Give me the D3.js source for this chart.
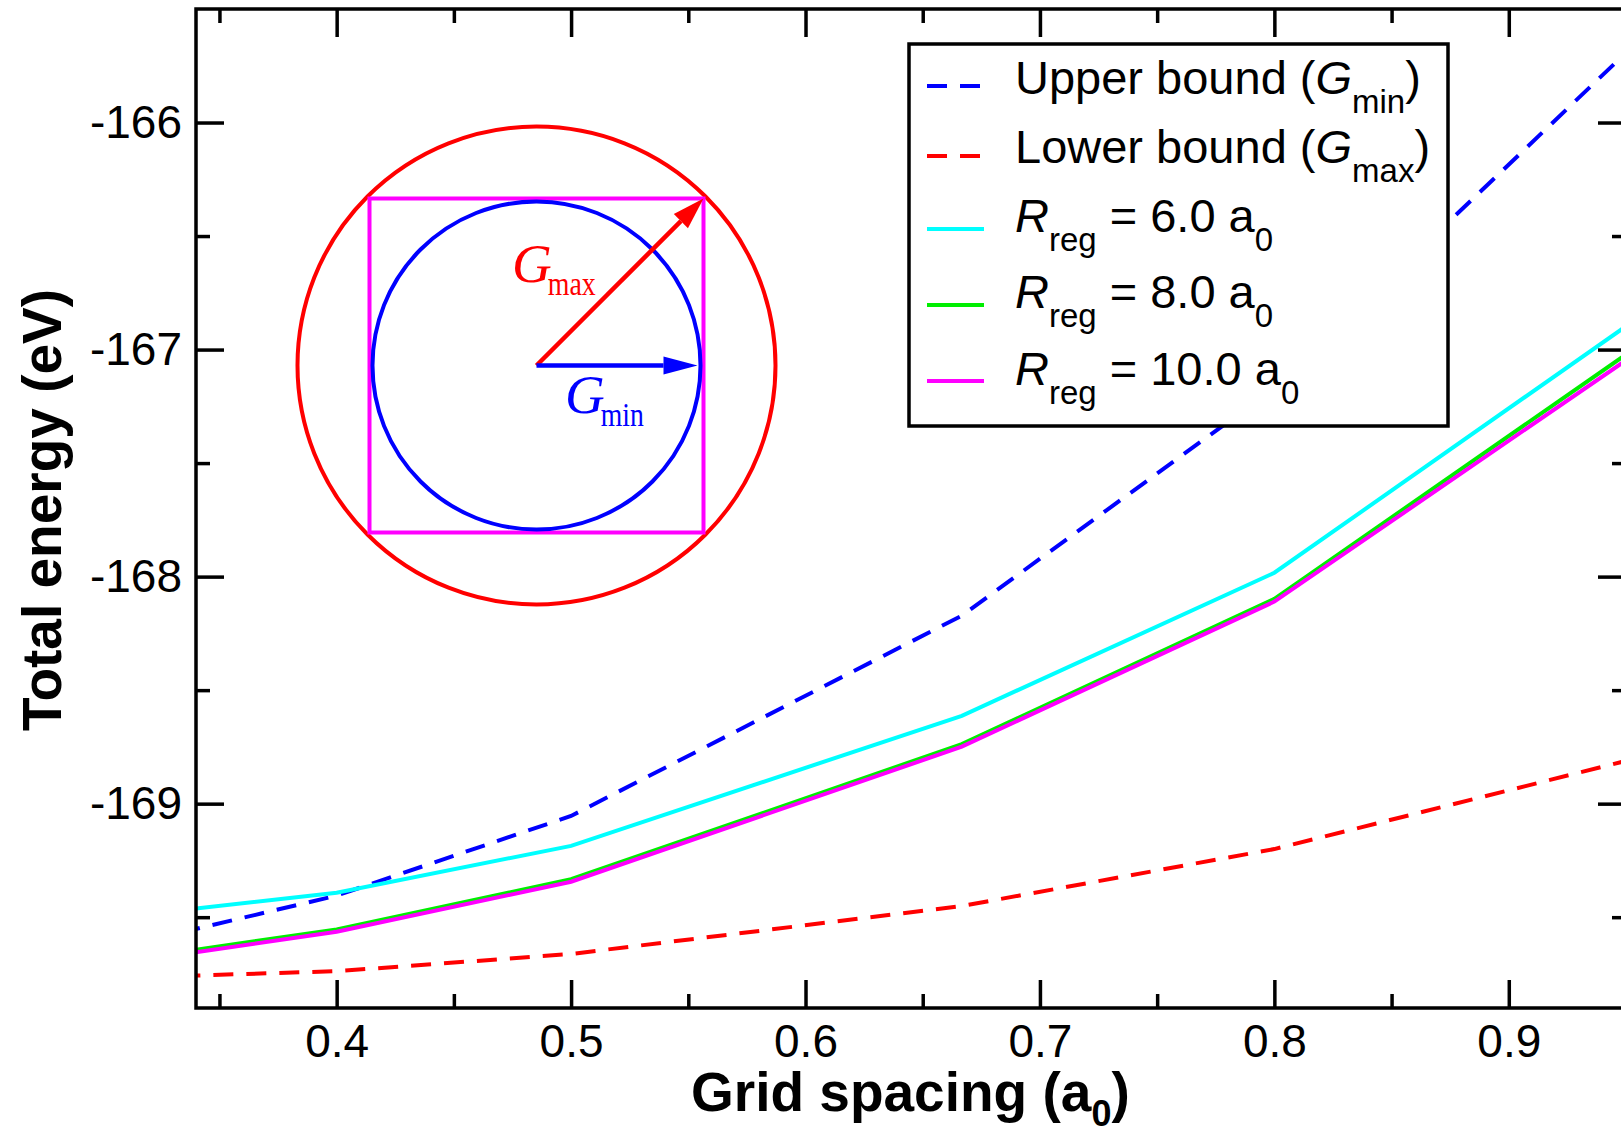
<!DOCTYPE html>
<html>
<head>
<meta charset="utf-8">
<script src="https://cdn.jsdelivr.net/npm/d3@7"></script>
<style>
  body { margin: 0; background: #fff; }
  svg { display: block; font-family: "Liberation Sans", Arial, sans-serif; }
</style>
</head>
<body>
<div class="svg-container"></div>
<script>
// grid spacing (a0) and total energies (eV)
var gridSpacing = [1/3, 0.4, 0.5, 2/3, 0.8, 1.0];
var upperBound  = [-169.568, -169.405, -169.054, -168.172, -167.170, -165.200];
var lowerBound  = [-169.759, -169.738, -169.662, -169.451, -169.200, -168.682];
var rreg6       = [-169.469, -169.392, -169.186, -168.613, -167.983, -166.535];
var rreg8       = [-169.653, -169.554, -169.333, -168.738, -168.098, -166.663];
var rreg10      = [-169.665, -169.564, -169.344, -168.749, -168.110, -166.693];

var xTicks = [0.4, 0.5, 0.6, 0.7, 0.8, 0.9];
var xMinorTicks = [0.35, 0.45, 0.55, 0.65, 0.75, 0.85];
var yTicks = [-169, -168, -167, -166];
var yMinorTicks = [-169.5, -168.5, -167.5, -166.5];

var seriesColors = ["#0000ff", "#ff0000", "#00ffff", "#00ee00", "#ff00ff"];
var seriesDashed = [true, true, false, false, false];
var seriesValues = [upperBound, lowerBound, rreg6, rreg8, rreg10];

// legend labels: [text, kind] where kind = main | ital | sub
var legendLabels = [
  [["Upper bound (", "main"], ["G", "ital"], ["min", "sub"], [")", "main"]],
  [["Lower bound (", "main"], ["G", "ital"], ["max", "sub"], [")", "main"]],
  [["R", "ital"], ["reg", "sub"], [" = 6.0 a", "main"], ["0", "sub"]],
  [["R", "ital"], ["reg", "sub"], [" = 8.0 a", "main"], ["0", "sub"]],
  [["R", "ital"], ["reg", "sub"], [" = 10.0 a", "main"], ["0", "sub"]]
];

var W = 1621, H = 1134;
var x = d3.scaleLinear().domain([0.34, 0.95]).range([196, 1626]);
var y = d3.scaleLinear().domain([-169.9, -165.5]).range([1008, 9]);

var svg = d3.select(".svg-container").append("svg")
  .attr("width", W)
  .attr("height", H);

svg.append("rect").attr("width", W).attr("height", H).attr("fill", "#fff");

svg.append("clipPath").attr("id", "plot-clip")
  .append("rect")
  .attr("x", x(0.34)).attr("y", y(-165.5))
  .attr("width", x(0.95) - x(0.34)).attr("height", y(-169.9) - y(-165.5));

// data lines
var lineFunction = d3.line()
  .x(function(d) { return x(d[0]); })
  .y(function(d) { return y(d[1]); });

var lines = svg.append("g").attr("clip-path", "url(#plot-clip)");
seriesValues.forEach(function(vals, i) {
  lines.append("path")
    .attr("d", lineFunction(d3.zip(gridSpacing, vals)))
    .attr("fill", "none")
    .attr("stroke", seriesColors[i])
    .attr("stroke-width", 4)
    .attr("stroke-dasharray", seriesDashed[i] ? "20,13" : null);
});

// axes, ticks pointing inward on all four sides
function styleAxis(g) {
  g.select(".domain").remove();
  g.selectAll(".tick line").attr("stroke", "#000").attr("stroke-width", 3.5);
  g.selectAll(".tick text").attr("fill", "#000").attr("font-size", 46)
    .attr("font-family", "Liberation Sans, Arial, sans-serif");
}
var fmtY = function(d) { return String(d); };

svg.append("g").attr("transform", "translate(0," + y(-169.9) + ")")
  .call(d3.axisBottom(x).tickValues(xTicks).tickSize(-28).tickPadding(16).tickFormat(d3.format(".1f")))
  .call(styleAxis);
svg.append("g").attr("transform", "translate(0," + y(-169.9) + ")")
  .call(d3.axisBottom(x).tickValues(xMinorTicks).tickSize(-14).tickFormat(""))
  .call(styleAxis);
svg.append("g").attr("transform", "translate(0," + y(-165.5) + ")")
  .call(d3.axisTop(x).tickValues(xTicks).tickSize(-28).tickFormat(""))
  .call(styleAxis);
svg.append("g").attr("transform", "translate(0," + y(-165.5) + ")")
  .call(d3.axisTop(x).tickValues(xMinorTicks).tickSize(-14).tickFormat(""))
  .call(styleAxis);

svg.append("g").attr("transform", "translate(" + x(0.34) + ",0)")
  .call(d3.axisLeft(y).tickValues(yTicks).tickSize(-28).tickPadding(14).tickFormat(fmtY))
  .call(styleAxis);
svg.append("g").attr("transform", "translate(" + x(0.34) + ",0)")
  .call(d3.axisLeft(y).tickValues(yMinorTicks).tickSize(-14).tickFormat(""))
  .call(styleAxis);
svg.append("g").attr("transform", "translate(" + x(0.95) + ",0)")
  .call(d3.axisRight(y).tickValues(yTicks).tickSize(-28).tickFormat(""))
  .call(styleAxis);
svg.append("g").attr("transform", "translate(" + x(0.95) + ",0)")
  .call(d3.axisRight(y).tickValues(yMinorTicks).tickSize(-14).tickFormat(""))
  .call(styleAxis);

svg.append("rect")
  .attr("x", x(0.34)).attr("y", y(-165.5))
  .attr("width", x(0.95) - x(0.34)).attr("height", y(-169.9) - y(-165.5))
  .attr("fill", "none").attr("stroke", "#000").attr("stroke-width", 3.5);

// axis titles
var xt = svg.append("text")
  .attr("x", 691).attr("y", 1111)
  .attr("font-size", 55).attr("font-weight", "bold");
xt.append("tspan").text("Grid spacing (a");
xt.append("tspan").attr("dy", 15).attr("font-size", 36).text("0");
xt.append("tspan").attr("dy", -15).text(")");

svg.append("text")
  .attr("transform", "translate(61,510) rotate(-90)")
  .attr("text-anchor", "middle")
  .attr("font-size", 55).attr("font-weight", "bold")
  .text("Total energy (eV)");

// inset sketch: G-sphere (min / max) around the cubic grid cell
var inset = svg.append("g");
var cx = 536.5, cy = 365.5, half = 167;
inset.append("circle").attr("cx", cx).attr("cy", cy).attr("r", 239)
  .attr("fill", "none").attr("stroke", "#ff0000").attr("stroke-width", 4);
inset.append("rect").attr("x", cx - half).attr("y", cy - half)
  .attr("width", 2 * half).attr("height", 2 * half)
  .attr("fill", "none").attr("stroke", "#ff00ff").attr("stroke-width", 4);
inset.append("circle").attr("cx", cx).attr("cy", cy).attr("r", 164)
  .attr("fill", "none").attr("stroke", "#0000ff").attr("stroke-width", 4);

function arrow(x1, y1, x2, y2, color, len, hw) {
  var a = Math.atan2(y2 - y1, x2 - x1);
  var bx = x2 - len * Math.cos(a), by = y2 - len * Math.sin(a);
  inset.append("line").attr("x1", x1).attr("y1", y1).attr("x2", bx).attr("y2", by)
    .attr("stroke", color).attr("stroke-width", 4.5);
  var px = -Math.sin(a) * hw, py = Math.cos(a) * hw;
  inset.append("polygon")
    .attr("points", [[x2, y2], [bx + px, by + py], [bx - px, by - py]].map(function(p) { return p.join(","); }).join(" "))
    .attr("fill", color);
}
arrow(cx, cy, cx + half, cy - half, "#ff0000", 32, 10);
arrow(cx, cy, cx + 161, cy, "#0000ff", 34, 9);

function insetLabel(lx, ly, sub, subW, color) {
  var t = inset.append("text").attr("x", lx).attr("y", ly)
    .attr("fill", color).attr("font-family", "Liberation Serif, Times New Roman, serif");
  t.append("tspan").attr("font-size", 55).attr("font-style", "italic").text("G");
  t.append("tspan").attr("font-size", 33).attr("dx", -4).attr("dy", 13)
    .attr("textLength", subW).attr("lengthAdjust", "spacingAndGlyphs").text(sub);
}
insetLabel(512, 282, "max", 48, "#ff0000");
insetLabel(565, 413, "min", 43, "#0000ff");

// legend
var legendRowY = [86, 156, 229, 305, 381];
var legendBaseOff = [8, 7, 3, 3, 4];
var legend = svg.append("g");
legend.append("rect").attr("x", 909).attr("y", 44).attr("width", 539).attr("height", 382)
  .attr("fill", "#fff").attr("stroke", "#000").attr("stroke-width", 3.5);

legendLabels.forEach(function(parts, i) {
  var ry = legendRowY[i];
  legend.append("line").attr("x1", 927).attr("x2", 984).attr("y1", ry).attr("y2", ry)
    .attr("stroke", seriesColors[i]).attr("stroke-width", 4)
    .attr("stroke-dasharray", seriesDashed[i] ? "20,13" : null);
  var t = legend.append("text").attr("x", 1015).attr("y", ry + legendBaseOff[i]).attr("font-size", 47);
  var shifted = false;
  parts.forEach(function(p) {
    var ts = t.append("tspan").text(p[0]);
    if (p[1] === "sub") {
      ts.attr("font-size", 33).attr("dy", 19);
      shifted = true;
    } else {
      if (shifted) { ts.attr("dy", -19); shifted = false; }
      if (p[1] === "ital") ts.attr("font-style", "italic");
    }
  });
});
</script>
</body>
</html>
